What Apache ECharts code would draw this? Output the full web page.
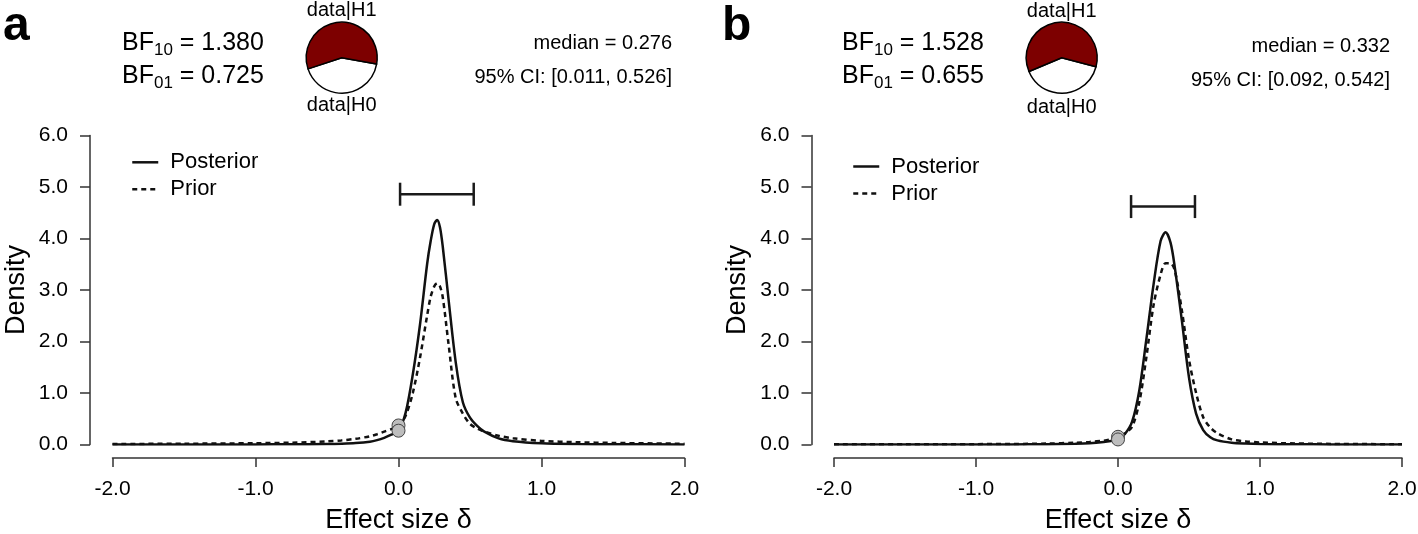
<!DOCTYPE html>
<html><head><meta charset="utf-8">
<script src="https://cdn.jsdelivr.net/npm/echarts@6/dist/echarts.min.js"></script>
<style>html,body{margin:0;padding:0;background:#fff}#c{width:1418px;height:534px}</style>
</head><body><div id="c"></div>
<script>
const FONT = '"Liberation Sans", Arial, Helvetica, sans-serif';

// ---- data ----
const xTickLabels = ['-2.0', '-1.0', '0.0', '1.0', '2.0'];
const yTickLabels = ['0.0', '1.0', '2.0', '3.0', '4.0', '5.0', '6.0'];
const panelLabels = ['a', 'b'];
const seriesNames = ['Posterior', 'Prior'];

const xsA = [-2, -1.5, -1, -0.75, -0.5, -0.4, -0.3, -0.2, -0.15, -0.1, -0.05, 0, 0.05, 0.1, 0.15, 0.2, 0.225, 0.25, 0.27, 0.29, 0.31, 0.35, 0.4, 0.45, 0.5, 0.55, 0.6, 0.7, 0.8, 1.0, 1.25, 1.5, 2.0];
const posteriorA = [0.001, 0.001, 0.002, 0.004, 0.01, 0.016, 0.028, 0.055, 0.085, 0.13, 0.19, 0.268, 0.62, 1.36, 2.32, 3.5, 3.95, 4.28, 4.36, 4.22, 3.83, 2.82, 1.6, 0.82, 0.52, 0.36, 0.25, 0.12, 0.065, 0.025, 0.01, 0.005, 0.002];
const priorA = [0.01, 0.015, 0.025, 0.035, 0.06, 0.08, 0.11, 0.16, 0.2, 0.25, 0.3, 0.37, 0.56, 1.0, 1.68, 2.5, 2.87, 3.07, 3.13, 3.07, 2.85, 1.95, 0.9, 0.6, 0.4, 0.31, 0.25, 0.17, 0.12, 0.07, 0.045, 0.03, 0.015];

const xsB = [-2, -1.5, -1, -0.75, -0.5, -0.3, -0.2, -0.1, -0.05, 0, 0.05, 0.1, 0.15, 0.2, 0.25, 0.3, 0.335, 0.37, 0.4, 0.45, 0.5, 0.55, 0.6, 0.65, 0.7, 0.8, 0.9, 1.0, 1.25, 1.5, 2.0];
const posteriorB = [0, 0, 0.001, 0.002, 0.005, 0.014, 0.025, 0.05, 0.07, 0.098, 0.21, 0.45, 1.05, 2.05, 3.1, 3.95, 4.12, 3.92, 3.44, 2.4, 1.3, 0.6, 0.28, 0.14, 0.08, 0.035, 0.018, 0.01, 0.004, 0.002, 0.001];
const priorB = [0.003, 0.004, 0.007, 0.01, 0.018, 0.035, 0.05, 0.075, 0.1, 0.15, 0.22, 0.35, 0.82, 1.7, 2.7, 3.3, 3.52, 3.52, 3.38, 2.6, 1.65, 1.0, 0.53, 0.33, 0.22, 0.1, 0.06, 0.04, 0.02, 0.012, 0.005];

// densities at delta = 0 : [prior, posterior]
const pointsA = [0.37, 0.268];
const pointsB = [0.15, 0.098];

const ciA = [0.011, 0.526];
const ciB = [0.092, 0.542];
const ciHeight = [4.86, 4.62];
const bf10 = [1.380, 1.528];
const bf01 = [0.725, 0.655];
const medians = [0.276, 0.332];

const curves = [
  {xs: xsA, post: posteriorA, prior: priorA, pts: pointsA, ci: ciA},
  {xs: xsB, post: posteriorB, prior: priorB, pts: pointsB, ci: ciB}
];

// ---- layout ----
const L = [
  {left: 112.5, right: 684.5, labelX: 3, bfX: 122, pieX: 341.7, medX: 672, medY: [43, 77], legX: 131, legY: 151.3, h1Y: 10.1, h0Y: 105.8},
  {left: 834, right: 1402, labelX: 722, bfX: 842, pieX: 1061.7, medX: 1390, medY: [46.5, 80], legX: 852, legY: 155.5, h1Y: 11.4, h0Y: 107.4}
];
const TOP = 135.5, BOTTOM0 = 444.5;

const grids = [], xAxes = [], yAxes = [], series = [], legends = [], graphics = [];

L.forEach((p, i) => {
  grids.push({left: p.left, width: p.right - p.left, top: TOP, height: BOTTOM0 - TOP, containLabel: false, outerBoundsMode: 'none'});
  xAxes.push({
    type: 'value', gridIndex: i, min: -2, max: 2, interval: 1, offset: 13.5,
    axisLine: {show: true, onZero: false, lineStyle: {color: '#333', width: 1.5}},
    axisTick: {show: true, length: 9, lineStyle: {color: '#333', width: 1.5}},
    axisLabel: {show: true, margin: 21, color: '#000', fontSize: 21, fontFamily: FONT,
      formatter: v => xTickLabels[Math.round(v + 2)]},
    splitLine: {show: false},
    name: 'Effect size δ', nameLocation: 'middle', nameGap: 49,
    nameTextStyle: {color: '#000', fontSize: 27, fontFamily: FONT}
  });
  yAxes.push({
    type: 'value', gridIndex: i, min: 0, max: 6, interval: 1, offset: 22.5,
    axisLine: {show: true, onZero: false, lineStyle: {color: '#333', width: 1.5}},
    axisTick: {show: true, length: 10, lineStyle: {color: '#333', width: 1.5}},
    axisLabel: {show: true, margin: 22, color: '#000', fontSize: 21, fontFamily: FONT,
      formatter: v => yTickLabels[Math.round(v)]},
    splitLine: {show: false},
    name: 'Density', nameLocation: 'middle', nameGap: 60, nameRotate: 90,
    nameTextStyle: {color: '#000', fontSize: 27, fontFamily: FONT}
  });
  const c = curves[i];
  series.push({
    type: 'line', name: seriesNames[0], xAxisIndex: i, yAxisIndex: i,
    data: c.xs.map((x, k) => [x, c.post[k]]), symbol: 'none', smooth: 0.3,
    lineStyle: {color: '#111', width: 2.5, type: 'solid'}, itemStyle: {color: '#111'}, z: 3, silent: true
  });
  series.push({
    type: 'line', name: seriesNames[1], xAxisIndex: i, yAxisIndex: i,
    data: c.xs.map((x, k) => [x, c.prior[k]]), symbol: 'none', smooth: 0.3,
    lineStyle: {color: '#111', width: 2.5, type: [5, 4]}, itemStyle: {color: '#111'}, z: 4, silent: true
  });
  series.push({
    type: 'scatter', xAxisIndex: i, yAxisIndex: i, symbolSize: 13, z: 6, silent: true,
    data: c.pts.map(v => [0, v]),
    itemStyle: {color: '#bdbdbd', borderColor: '#444', borderWidth: 1, opacity: 1}
  });
  series.push({
    type: 'custom', xAxisIndex: i, yAxisIndex: i, z: 5, silent: true,
    data: [[c.ci[0], c.ci[1], ciHeight[i]]],
    encode: {x: [0, 1], y: 2},
    renderItem: (params, api) => {
      const p0 = api.coord([api.value(0), api.value(2)]);
      const p1 = api.coord([api.value(1), api.value(2)]);
      const cap = 11.5;
      const st = {stroke: '#1a1a1a', lineWidth: 2.5, fill: null};
      return {type: 'group', children: [
        {type: 'line', shape: {x1: p0[0], y1: p0[1], x2: p1[0], y2: p1[1]}, style: st},
        {type: 'line', shape: {x1: p0[0], y1: p0[1] - cap, x2: p0[0], y2: p0[1] + cap}, style: st},
        {type: 'line', shape: {x1: p1[0], y1: p1[1] - cap, x2: p1[0], y2: p1[1] + cap}, style: st}
      ]};
    }
  });
  const frac0 = 1 / (1 + bf10[i]);
  series.push({
    type: 'pie', center: [p.pieX, 57.7], radius: 35.5, clockwise: true,
    startAngle: 274 + 180 * frac0, silent: true, animation: false,
    label: {show: false}, labelLine: {show: false},
    itemStyle: {borderColor: '#000', borderWidth: 1.5},
    data: [
      {name: 'data|H0', value: 1, itemStyle: {color: '#ffffff'}},
      {name: 'data|H1', value: bf10[i], itemStyle: {color: '#7d0000'}}
    ]
  });
  legends.push({
    show: true, orient: 'vertical', left: p.legX, top: p.legY, padding: 0,
    itemWidth: 26, itemHeight: 22, itemGap: 5, selectedMode: false,
    data: seriesNames,
    itemStyle: {opacity: 0, borderWidth: 0},
    lineStyle: {width: 2.5, color: '#111', opacity: 1},
    textStyle: {color: '#000', fontSize: 22, fontFamily: FONT, lineHeight: 22, padding: [0, 0, 0, 7]}
  });
  // texts
  graphics.push({type: 'text', x: p.labelX, y: 26.8, style: {text: panelLabels[i], fill: '#000',
    font: 'bold 48px ' + FONT, align: 'left', verticalAlign: 'middle', textAlign: 'left', textVerticalAlign: 'middle'}});
  const rich = {
    m: {fontSize: 25, fontFamily: FONT, lineHeight: 25, verticalAlign: 'top', fill: '#000'},
    s: {fontSize: 17, fontFamily: FONT, lineHeight: 17, padding: [11, 0, 0, 0], verticalAlign: 'top', fill: '#000'}
  };
  graphics.push({type: 'text', x: p.bfX, y: 30.4, style: {text: '{m|BF}{s|10}{m| = ' + bf10[i].toFixed(3) + '}', rich: rich,
    align: 'left', verticalAlign: 'top', textAlign: 'left', textVerticalAlign: 'top'}});
  graphics.push({type: 'text', x: p.bfX, y: 63.7, style: {text: '{m|BF}{s|01}{m| = ' + bf01[i].toFixed(3) + '}', rich: rich,
    align: 'left', verticalAlign: 'top', textAlign: 'left', textVerticalAlign: 'top'}});
  graphics.push({type: 'text', x: p.medX, y: p.medY[0], style: {text: 'median = ' + medians[i].toFixed(3), fill: '#000',
    font: '20px ' + FONT, align: 'right', verticalAlign: 'middle', textAlign: 'right', textVerticalAlign: 'middle'}});
  graphics.push({type: 'text', x: p.medX, y: p.medY[1], style: {text: '95% CI: [' + curves[i].ci[0].toFixed(3) + ', ' + curves[i].ci[1].toFixed(3) + ']', fill: '#000',
    font: '20px ' + FONT, align: 'right', verticalAlign: 'middle', textAlign: 'right', textVerticalAlign: 'middle'}});
  graphics.push({type: 'text', x: p.pieX, y: p.h1Y, style: {text: 'data|H1', fill: '#000',
    font: '20px ' + FONT, align: 'center', verticalAlign: 'middle', textAlign: 'center', textVerticalAlign: 'middle'}});
  graphics.push({type: 'text', x: p.pieX, y: p.h0Y, style: {text: 'data|H0', fill: '#000',
    font: '20px ' + FONT, align: 'center', verticalAlign: 'middle', textAlign: 'center', textVerticalAlign: 'middle'}});
});

const chart = echarts.init(document.getElementById('c'), null, {renderer: 'canvas'});
chart.setOption({
  animation: false,
  backgroundColor: '#fff',
  textStyle: {fontFamily: FONT},
  grid: grids, xAxis: xAxes, yAxis: yAxes, legend: legends, series: series,
  graphic: {elements: graphics}
});
</script></body></html>
